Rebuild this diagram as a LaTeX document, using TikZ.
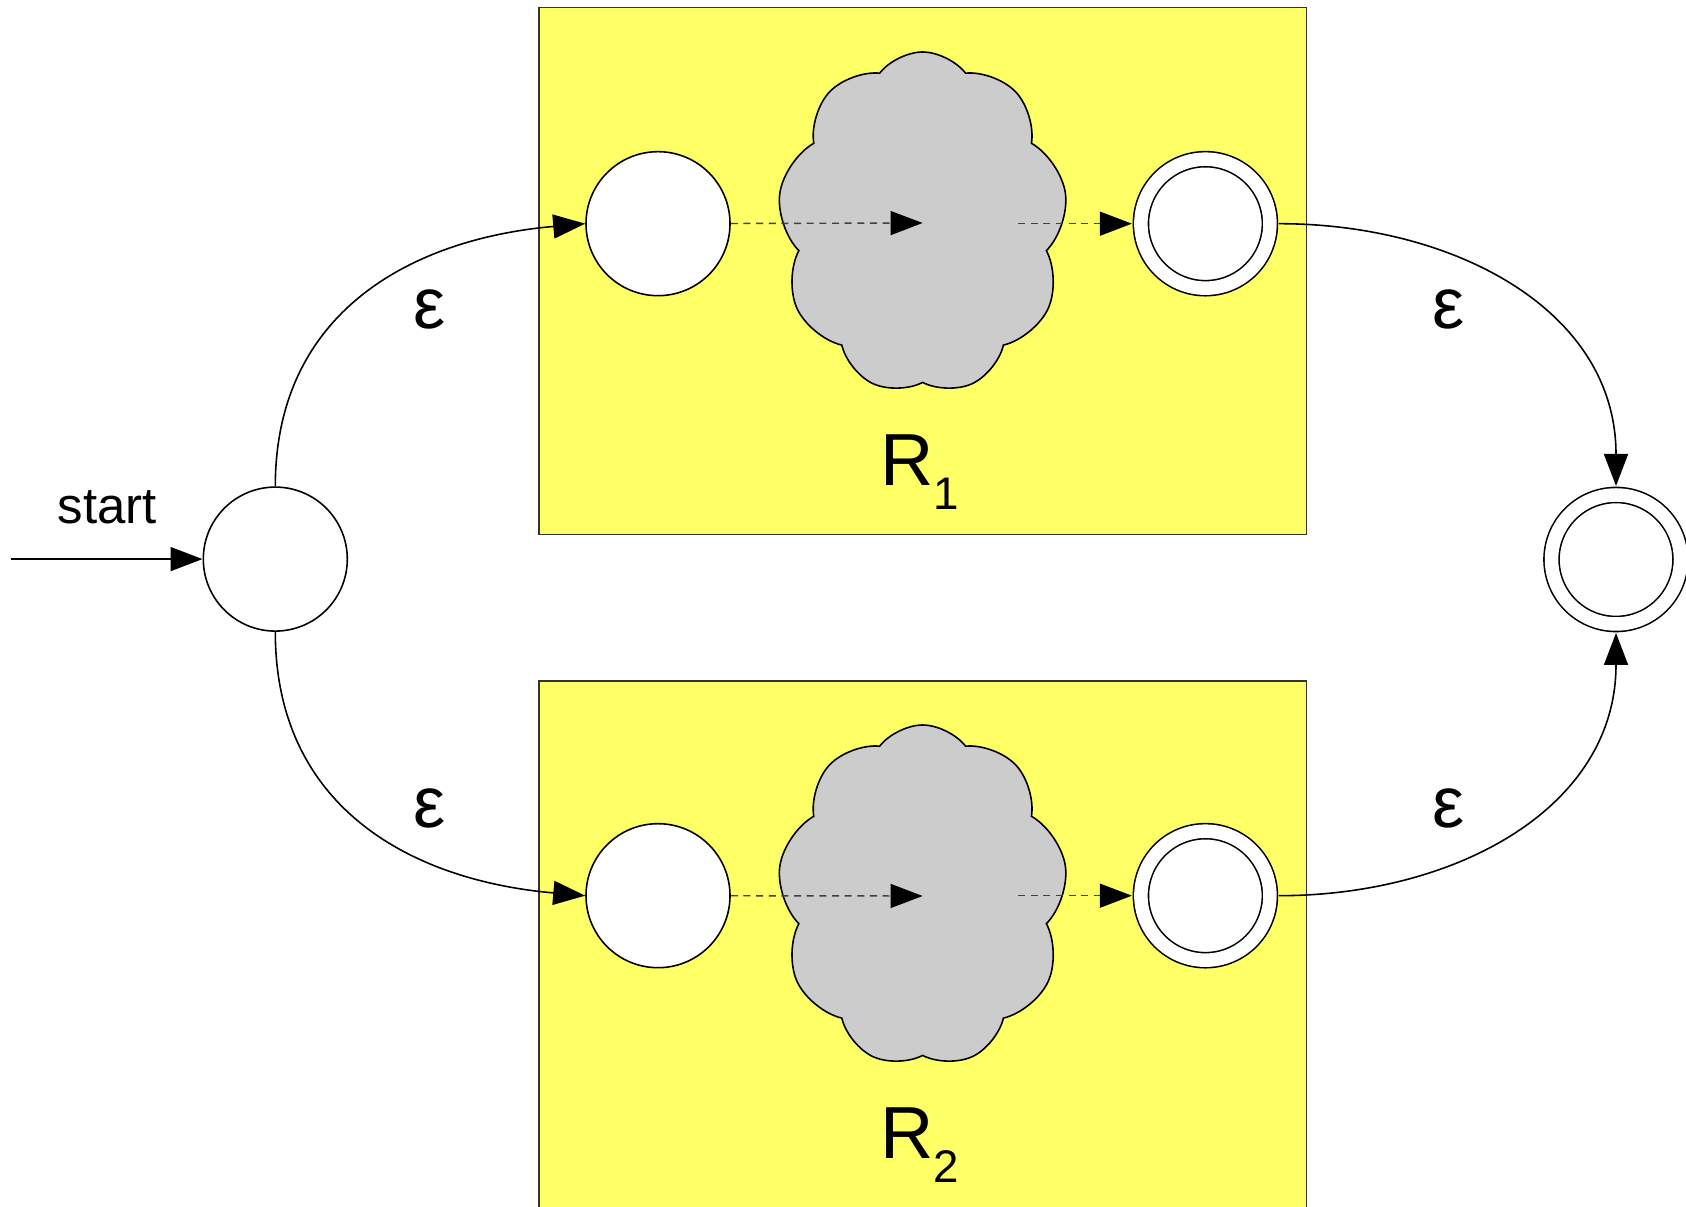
\documentclass[tikz,border=0pt]{standalone}
\usepackage{fontspec}
\setmainfont{Liberation Sans}
\usetikzlibrary{arrows.meta,shapes.symbols}

\begin{document}
\begin{tikzpicture}[
line width=0.45pt,
every node/.style={font=\fontsize{14.5}{17}\selectfont},
arr/.style={-{Triangle[length=3.2mm,width=2.4mm]}},
dotarr/.style={-{Triangle[length=3.2mm,width=2.4mm,color=black]}, draw=black!75, line width=0.4pt, dash pattern=on 2pt off 1.6pt},
state/.style={circle, draw, fill=white, minimum size=1.44cm, inner sep=0pt},
accept/.style={circle, draw, fill=white, double, double distance=1.35mm, minimum size=1.29cm, inner sep=0pt, outer sep=0.9mm},
blob/.style={cloud, cloud puffs=9, cloud puff arc=105, aspect=0.85, draw, fill=cloudgray, minimum width=2.9cm, minimum height=3.42cm, inner sep=0pt},
part/.style={fill=boxyellow, draw=black!80, line width=0.5pt},
eps/.style={font=\fontsize{20.5}{24}\selectfont},
rlab/.style={font=\fontsize{21}{24}\selectfont}
]
\definecolor{boxyellow}{RGB}{255,255,102}
\definecolor{cloudgray}{RGB}{204,204,204}

\useasboundingbox (0,0) rectangle (16.86,12.07);

\draw[part] (5.39,6.725) rectangle (13.065,11.995);
\draw[part] (5.39,-0.1) rectangle (13.065,5.263);

\node[state] (q0) at (2.753,6.479) {};
\coordinate (in) at (0.11,6.479);
\node (startlab) at (1.075,7.0) {start};
\draw[arr] (in) -- (q0);

\node[blob] (c1) at (9.226,9.84) {};
\node[state] (s1) at (6.58,9.833) {};
\node[accept] (f1) at (12.054,9.833) {};
\coordinate (c1out) at (10.18,9.833);
\draw[dotarr] (s1) -- (c1.center);
\draw[dotarr] (c1out) -- (f1);
\node[rlab] (r1) at (9.2,7.35) {R\raisebox{-6.7pt}{\fontsize{13}{13}\selectfont 1}};

\node[blob] (c2) at (9.226,3.11) {};
\node[state] (s2) at (6.58,3.113) {};
\node[accept] (f2) at (12.054,3.113) {};
\coordinate (c2out) at (10.18,3.113);
\draw[dotarr] (s2) -- (c2.center);
\draw[dotarr] (c2out) -- (f2);
\node[rlab] (r2) at (9.2,0.62) {R\raisebox{-6.7pt}{\fontsize{13}{13}\selectfont 2}};

\node[accept] (qf) at (16.16,6.475) {};

\draw[arr] (q0.north) to[out=90,in=185,looseness=1.1] (s1.west);
\draw[arr] (q0.south) to[out=-90,in=175,looseness=1.1] (s2.west);
\draw[arr] (f1.east) to[out=0,in=90,looseness=1.05] (qf.north);
\draw[arr] (f2.east) to[out=0,in=-90,looseness=1.05] (qf.south);

\node[eps] (e1) at (4.30,8.98) {ε};
\node[eps] (e2) at (14.485,8.98) {ε};
\node[eps] (e3) at (4.30,3.99) {ε};
\node[eps] (e4) at (14.485,3.99) {ε};
\end{tikzpicture}
\end{document}
